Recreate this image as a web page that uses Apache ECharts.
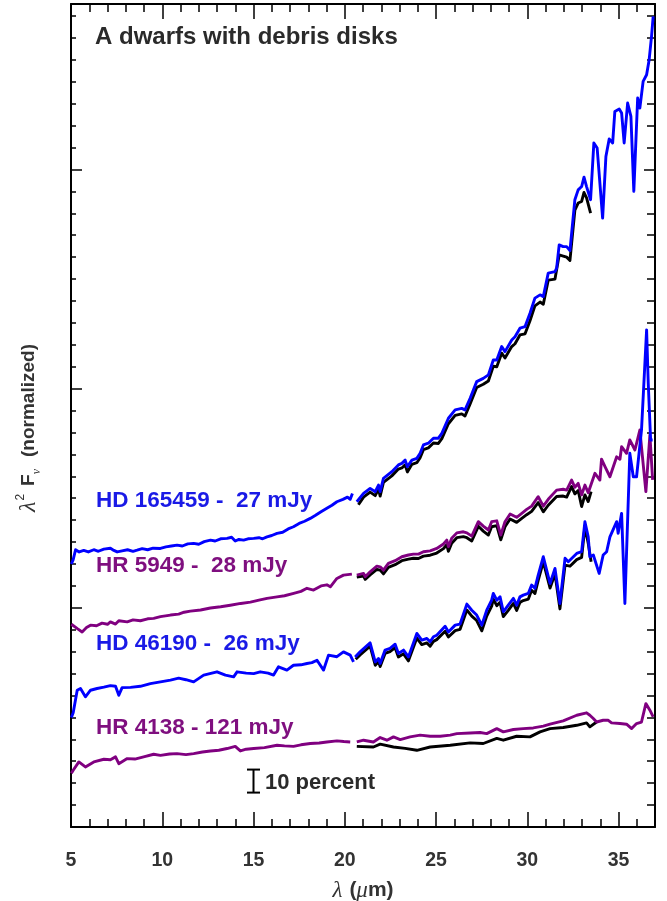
<!DOCTYPE html>
<html><head><meta charset="utf-8">
<script src="https://cdn.jsdelivr.net/npm/echarts@6/dist/echarts.min.js"></script>
<style>html,body{margin:0;padding:0;background:#fff}#c{width:667px;height:901px}</style>
</head><body><div id="c"></div>
<script>
// ---------- data (x = wavelength in micron, y = normalized flux in minor-tick units) ----------
const xTickLabels = [5, 10, 15, 20, 25, 30, 35];
const titleText = 'A dwarfs with debris disks';
const starLabels = ['HD 165459 -  27 mJy', 'HR 5949 -  28 mJy', 'HD 46190 -  26 mJy', 'HR 4138 - 121 mJy'];
const errBarLabel = '10 percent';
const errBar = [[15, 1.57, 2.62]];

const hd165459SL = [[5.02,12.0],[5.12,12.2],[5.25,12.65],[5.45,12.55],[5.7,12.62],[5.95,12.55],[6.25,12.65],[6.5,12.58],[6.8,12.68],[7.16,12.72],[7.35,12.62],[7.53,12.55],[7.8,12.6],[8.1,12.65],[8.4,12.58],[8.62,12.63],[8.9,12.7],[9.2,12.65],[9.5,12.72],[9.9,12.71],[10.2,12.78],[10.5,12.82],[10.81,12.86],[11.1,12.82],[11.4,12.92],[11.72,12.94],[12.0,12.9],[12.3,13.02],[12.64,13.09],[12.9,13.05],[13.2,13.15],[13.55,13.17],[13.8,13.22],[14.0,13.05],[14.2,13.12],[14.46,13.09],[14.7,13.15],[15.01,13.17],[15.3,13.2],[15.5,13.15],[15.74,13.24],[16.0,13.3],[16.29,13.4],[16.6,13.45],[16.9,13.6],[17.19,13.7],[17.5,13.85],[17.8,13.95],[18.11,14.08],[18.4,14.22],[18.7,14.38],[19.02,14.54],[19.3,14.68],[19.57,14.84],[19.9,14.95],[20.15,15.05],[20.3,14.95],[20.42,15.22]];
const hd165459LL = [[20.66,14.84],[21.03,15.22],[21.39,15.45],[21.67,15.3],[21.85,15.6],[21.94,15.3],[22.12,15.91],[22.58,16.21],[22.94,16.52],[23.13,16.59],[23.31,16.74],[23.43,16.44],[23.68,16.74],[23.95,16.82],[24.13,17.05],[24.31,17.43],[24.58,17.51],[24.86,17.74],[25.13,17.74],[25.32,17.96],[25.68,18.65],[26.05,19.03],[26.41,19.1],[26.59,19.03],[26.87,19.56],[27.23,20.32],[27.59,20.47],[27.87,20.63],[28.14,21.31],[28.33,21.31],[28.6,21.92],[28.78,21.69],[29.15,22.22],[29.33,22.37],[29.6,22.76],[29.88,22.83],[30.15,23.44],[30.42,24.13],[30.7,24.28],[30.88,24.2],[31.15,25.27],[31.52,25.34],[31.61,25.5],[31.75,26.56],[31.97,26.48],[32.16,26.48],[32.34,26.3],[32.61,28.62],[32.79,29.07],[32.98,29.22],[33.11,29.65],[33.25,29.22],[33.47,28.62],[33.65,31.21],[33.83,30.98],[34.13,27.78],[34.31,30.59],[34.49,31.39],[34.68,31.21],[34.8,32.65],[35.04,32.76],[35.17,32.58],[35.31,31.21],[35.5,33.03],[35.68,32.42],[35.84,29.0],[36.05,33.26],[36.17,32.8],[36.35,34.02],[36.54,34.32],[36.68,35.01],[36.81,36.07],[36.9,36.99]];
const hd165459Black = [[20.75,14.7],[21.03,15.05],[21.39,15.28],[21.67,15.12],[21.85,15.42],[21.94,15.1],[22.12,15.72],[22.58,16.02],[22.94,16.33],[23.13,16.38],[23.31,16.52],[23.43,16.2],[23.68,16.55],[23.95,16.62],[24.13,16.85],[24.31,17.22],[24.58,17.3],[24.86,17.52],[25.13,17.5],[25.32,17.72],[25.68,18.4],[26.05,18.78],[26.41,18.85],[26.59,18.75],[26.87,19.3],[27.23,20.05],[27.59,20.2],[27.87,20.35],[28.14,21.02],[28.33,21.0],[28.6,21.62],[28.78,21.4],[29.15,21.92],[29.33,22.05],[29.6,22.45],[29.88,22.5],[30.15,23.1],[30.42,23.78],[30.7,23.95],[30.88,23.85],[31.15,24.95],[31.52,25.0],[31.75,26.1],[31.97,26.05],[32.16,26.0],[32.34,25.85],[32.61,28.15],[32.79,28.47],[32.98,28.54],[33.11,28.95],[33.25,28.7],[33.47,28.01]];

const hr5949SL = [[5.02,9.25],[5.12,9.21],[5.35,9.05],[5.61,8.9],[5.85,9.1],[6.07,9.21],[6.4,9.18],[6.7,9.3],[7.0,9.25],[7.16,9.36],[7.44,9.26],[7.62,9.41],[8.08,9.36],[8.4,9.45],[8.8,9.41],[9.2,9.5],[9.53,9.52],[9.9,9.6],[10.45,9.67],[10.9,9.71],[11.2,9.8],[11.54,9.85],[12.1,9.9],[12.64,9.99],[13.2,10.05],[13.73,10.12],[14.3,10.2],[14.83,10.26],[15.3,10.35],[15.74,10.43],[16.29,10.5],[16.7,10.55],[17.2,10.66],[17.6,10.75],[17.93,10.89],[18.29,10.81],[18.7,11.0],[19.02,11.05],[19.21,10.96],[19.57,11.34],[19.93,11.49],[20.39,11.54]];
const hr5949LL = [[20.66,11.49],[21.03,11.57],[21.12,11.42],[21.39,11.64],[21.76,11.9],[21.94,11.87],[22.12,11.72],[22.39,12.03],[22.76,12.15],[23.13,12.33],[23.49,12.41],[23.76,12.45],[24.04,12.45],[24.31,12.56],[24.68,12.6],[25.04,12.71],[25.41,12.91],[25.59,13.09],[25.68,12.79],[25.86,13.17],[26.14,13.42],[26.5,13.47],[26.69,13.42],[26.96,13.27],[27.32,13.93],[27.59,13.73],[27.87,13.55],[28.05,13.93],[28.33,13.97],[28.55,13.32],[28.78,13.93],[29.06,14.28],[29.42,14.13],[29.7,14.31],[29.97,14.49],[30.24,14.64],[30.6,15.07],[30.88,14.64],[31.15,14.95],[31.61,15.37],[31.97,15.41],[32.16,15.37],[32.43,15.83],[32.61,15.5],[32.79,15.68],[32.98,15.15],[33.16,15.6],[33.34,15.25],[33.71,16.14],[33.98,15.83],[34.07,16.78],[34.26,16.44],[34.53,15.98],[34.9,16.89],[35.08,16.78],[35.17,17.35],[35.44,17.05],[35.62,17.66],[35.9,17.2],[36.17,18.11],[36.5,15.3],[36.72,17.88],[36.87,15.84]];
const hr5949Black = [[20.66,11.4],[21.03,11.45],[21.12,11.3],[21.39,11.5],[21.76,11.75],[21.94,11.72],[22.12,11.55],[22.39,11.85],[22.76,11.97],[23.13,12.15],[23.49,12.22],[23.76,12.26],[24.04,12.25],[24.31,12.36],[24.68,12.4],[25.04,12.5],[25.41,12.7],[25.59,12.88],[25.68,12.58],[25.86,12.95],[26.14,13.2],[26.5,13.25],[26.69,13.2],[26.96,13.05],[27.32,13.72],[27.59,13.5],[27.87,13.32],[28.05,13.7],[28.33,13.75],[28.55,13.1],[28.78,13.7],[29.06,14.05],[29.42,13.9],[29.7,14.08],[29.97,14.25],[30.24,14.4],[30.6,14.8],[30.88,14.38],[31.15,14.68],[31.61,15.08],[31.97,15.1],[32.16,15.05],[32.43,15.53],[32.61,15.2],[32.79,15.35],[32.98,14.62],[33.16,15.15],[33.34,14.85],[33.5,15.3]];

const hd46190SL = [[5.02,5.0],[5.12,5.21],[5.34,6.24],[5.52,6.32],[5.79,5.94],[6.07,6.24],[6.43,6.32],[6.8,6.38],[7.16,6.45],[7.44,6.42],[7.62,6.01],[7.8,6.36],[8.26,6.37],[8.8,6.42],[9.35,6.54],[9.9,6.62],[10.45,6.7],[10.9,6.79],[11.3,6.72],[11.72,6.62],[12.27,6.93],[13.0,7.08],[13.46,6.93],[13.91,6.85],[14.1,7.08],[14.6,7.02],[15.01,7.0],[15.37,7.08],[15.8,7.02],[16.1,6.93],[16.37,7.31],[16.83,7.16],[17.19,7.38],[17.6,7.4],[17.93,7.46],[18.2,7.5],[18.48,7.61],[18.84,7.16],[19.11,7.84],[19.57,7.77],[19.93,7.99],[20.3,7.84],[20.48,7.53]];
const hd46190LL = [[20.57,7.76],[20.84,7.99],[21.39,8.4],[21.67,7.53],[21.85,7.69],[21.94,7.46],[22.21,8.07],[22.48,8.15],[22.76,8.34],[22.94,7.92],[23.22,8.07],[23.49,7.76],[23.95,8.83],[24.22,8.53],[24.5,8.6],[24.68,8.45],[24.86,8.68],[25.04,8.75],[25.5,9.16],[25.68,8.9],[26.05,9.21],[26.32,9.26],[26.69,10.17],[26.96,9.89],[27.23,9.67],[27.51,9.21],[27.78,9.89],[28.05,10.35],[28.14,10.66],[28.33,10.35],[28.51,10.5],[28.69,9.82],[28.96,10.12],[29.24,10.43],[29.42,10.12],[29.6,10.5],[29.78,10.58],[30.06,10.66],[30.24,11.04],[30.42,10.89],[30.6,11.49],[30.88,12.33],[31.25,11.11],[31.52,11.8],[31.79,10.2],[32.07,12.26],[32.25,12.1],[32.34,12.18],[32.71,12.48],[32.98,12.56],[33.16,13.93],[33.34,13.24],[33.43,12.33],[33.62,12.41],[33.94,11.57],[34.16,12.41],[34.35,12.56],[34.53,13.24],[34.9,13.93],[34.98,13.4],[35.17,14.31],[35.35,10.2],[35.62,17.05],[35.81,15.98],[35.99,15.98],[36.26,18.11],[36.54,22.68],[36.63,20.25],[36.76,17.66],[36.87,17.66]];
const hd46190Black = [[20.6,7.65],[20.84,7.85],[21.39,8.25],[21.67,7.38],[21.85,7.55],[21.94,7.32],[22.21,7.92],[22.48,8.0],[22.76,8.18],[22.94,7.76],[23.22,7.9],[23.49,7.58],[23.95,8.62],[24.22,8.32],[24.5,8.4],[24.68,8.25],[24.86,8.47],[25.04,8.55],[25.5,8.93],[25.68,8.67],[26.05,8.96],[26.32,9.02],[26.69,9.9],[26.96,9.62],[27.23,9.42],[27.51,8.95],[27.78,9.62],[28.05,10.08],[28.14,10.4],[28.33,10.1],[28.51,10.25],[28.69,9.6],[28.96,9.88],[29.24,10.2],[29.42,9.88],[29.6,10.25],[29.78,10.33],[30.06,10.4],[30.24,10.8],[30.42,10.65],[30.6,11.25],[30.88,12.1],[31.25,10.9],[31.52,11.55],[31.79,9.95],[32.07,11.95],[32.34,11.9],[32.71,12.2],[32.98,12.3],[33.16,13.7],[33.34,12.95],[33.5,12.1]];

const hr4138SL = [[5.02,2.45],[5.12,2.59],[5.43,2.97],[5.79,2.74],[6.25,2.97],[6.8,3.09],[7.16,3.07],[7.44,3.2],[7.62,2.89],[8.08,3.12],[8.5,3.1],[8.98,3.2],[9.53,3.32],[9.9,3.27],[10.4,3.33],[10.81,3.35],[11.3,3.3],[11.72,3.35],[12.2,3.42],[12.64,3.47],[13.1,3.5],[13.55,3.58],[14.0,3.68],[14.28,3.47],[14.6,3.55],[15.01,3.58],[15.6,3.62],[16.29,3.73],[16.7,3.7],[17.19,3.68],[17.6,3.75],[18.11,3.81],[18.6,3.83],[19.02,3.88],[19.57,3.93],[19.95,3.9],[20.3,3.88]];
const hr4138LL = [[20.66,3.88],[21.03,3.96],[21.57,3.88],[21.94,4.08],[22.31,3.96],[22.67,4.11],[23.04,3.99],[23.58,4.11],[24.13,4.19],[24.68,4.14],[25.23,4.14],[25.78,4.19],[26.14,4.26],[26.87,4.29],[27.42,4.31],[27.78,4.26],[28.33,4.49],[28.69,4.34],[29.24,4.45],[29.78,4.49],[30.33,4.52],[30.88,4.6],[31.25,4.69],[31.97,4.84],[32.71,5.1],[33.25,5.21],[33.43,5.1],[33.62,4.95],[33.71,5.02],[33.8,4.79],[34.16,4.87],[34.44,4.87],[34.62,4.75],[35.08,4.72],[35.44,4.69],[35.72,4.49],[35.99,4.72],[36.26,4.79],[36.5,5.63],[36.72,5.33],[36.9,5.02]];
const hr4138Black = [[20.66,3.68],[21.57,3.65],[21.94,3.78],[22.67,3.65],[23.31,3.59],[23.95,3.5],[24.68,3.65],[25.78,3.73],[26.87,3.84],[27.59,3.81],[28.33,4.04],[28.69,3.96],[29.42,4.14],[30.15,4.11],[30.7,4.34],[31.25,4.49],[31.97,4.54],[32.71,4.64],[33.25,4.75],[33.43,4.57],[33.8,4.79]];

// ---------- styling ----------
const BLUE = '#0000ff', PURPLE = '#800080', BLACK = '#000000';
const FONT = '"Liberation Sans", Arial, Helvetica, sans-serif';
const SERIF = '"Liberation Serif", "DejaVu Serif", serif';

function lineSeries(data, color, z) {
  return { type: 'line', data: data, showSymbol: false, symbol: 'none', z: z, silent: true,
    lineStyle: { color: color, width: 2.9, join: 'round' }, animation: false };
}

const series = [
  lineSeries(hd165459Black, BLACK, 2), lineSeries(hd165459SL, BLUE, 3), lineSeries(hd165459LL, BLUE, 3),
  lineSeries(hr5949Black, BLACK, 2), lineSeries(hr5949SL, PURPLE, 3), lineSeries(hr5949LL, PURPLE, 3),
  lineSeries(hd46190Black, BLACK, 2), lineSeries(hd46190SL, BLUE, 3), lineSeries(hd46190LL, BLUE, 3),
  lineSeries(hr4138Black, BLACK, 2), lineSeries(hr4138SL, PURPLE, 3), lineSeries(hr4138LL, PURPLE, 3),
  { type: 'custom', data: errBar, silent: true, animation: false, z: 4,
    renderItem: function (params, api) {
      const x = api.value(0), lo = api.value(1), hi = api.value(2);
      const p1 = api.coord([x, lo]), p2 = api.coord([x, hi]);
      const w = 6.5, st = { stroke: '#000', lineWidth: 2 };
      return { type: 'group', children: [
        { type: 'line', shape: { x1: p1[0], y1: p1[1], x2: p2[0], y2: p2[1] }, style: st },
        { type: 'line', shape: { x1: p1[0] - w, y1: p1[1], x2: p1[0] + w, y2: p1[1] }, style: st },
        { type: 'line', shape: { x1: p2[0] - w, y1: p2[1], x2: p2[0] + w, y2: p2[1] }, style: st }
      ] };
    } }
];

const axLine = { show: true, onZero: false, lineStyle: { color: '#000', width: 2 } };
function xAx(pos, interval, tickLen, showLine, showLabel) {
  return { type: 'value', min: 5, max: 37, interval: interval, position: pos,
    axisLine: showLine ? axLine : { show: false, onZero: false },
    axisTick: { show: true, inside: true, length: tickLen, lineStyle: { color: '#000', width: 1.5 } },
    axisLabel: showLabel ? { show: true, margin: 24, color: '#333', fontFamily: FONT, fontWeight: 'bold', fontSize: 19.5,
      formatter: function (v) { return xTickLabels.indexOf(v) >= 0 ? String(v) : ''; } } : { show: false },
    splitLine: { show: false } };
}
function yAx(pos, interval, tickLen, showLine) {
  return { type: 'value', min: 0, max: 37.55, interval: interval, position: pos,
    axisLine: showLine ? axLine : { show: false, onZero: false },
    axisTick: { show: true, inside: true, length: tickLen, lineStyle: { color: '#000', width: 1.5 } },
    axisLabel: { show: false }, splitLine: { show: false } };
}

const xAxes = [xAx('bottom', 5, 15, true, true), xAx('bottom', 1, 8, false, false), xAx('top', 5, 15, true, false), xAx('top', 1, 8, false, false)];
xAxes[0].name = '{l|λ}{b|(}{u|μ}{b|m)}';
xAxes[0].nameLocation = 'middle';
xAxes[0].nameGap = 52;
xAxes[0].nameTextStyle = { rich: {
  l: { fontFamily: SERIF, fontStyle: 'italic', fontSize: 23, color: '#333', padding: [0, 7, 0, 0] },
  u: { fontFamily: SERIF, fontStyle: 'italic', fontSize: 23, color: '#333' },
  b: { fontFamily: FONT, fontWeight: 'bold', fontSize: 21, color: '#333' } } };

const yAxes = [yAx('left', 10, 11, true), yAx('left', 1, 5, false), yAx('right', 10, 11, true), yAx('right', 1, 8, false)];

const chart = echarts.init(document.getElementById('c'), null, { renderer: 'canvas' });
chart.setOption({
  animation: false,
  backgroundColor: '#fff',
  grid: { left: 71, right: 12, top: 4, bottom: 74, containLabel: false, outerBoundsMode: 'none' },
  xAxis: xAxes,
  yAxis: yAxes,
  series: series,
  graphic: [
    { type: 'text', x: 95, y: 37, silent: true, z: 10, style: { text: titleText, fill: '#2a2a2a', font: 'bold 24px ' + FONT, verticalAlign: 'middle' } },
    { type: 'text', x: 96, y: 501, silent: true, z: 10, style: { text: starLabels[0], fill: '#1a1ae6', font: 'bold 22.5px ' + FONT, verticalAlign: 'middle' } },
    { type: 'text', x: 96, y: 566, silent: true, z: 10, style: { text: starLabels[1], fill: '#7f0f7f', font: 'bold 22.5px ' + FONT, verticalAlign: 'middle' } },
    { type: 'text', x: 96, y: 644, silent: true, z: 10, style: { text: starLabels[2], fill: '#1a1ae6', font: 'bold 22.5px ' + FONT, verticalAlign: 'middle' } },
    { type: 'text', x: 96, y: 727.5, silent: true, z: 10, style: { text: starLabels[3], fill: '#7f0f7f', font: 'bold 22.5px ' + FONT, verticalAlign: 'middle' } },
    { type: 'text', x: 265, y: 782.5, silent: true, z: 10, style: { text: errBarLabel, fill: '#2a2a2a', font: 'bold 22px ' + FONT, verticalAlign: 'middle' } },
    { type: 'text', x: 29, y: 428, rotation: Math.PI / 2, silent: true, z: 10,
      style: { text: '{i|λ}{sup|2}{b|F}{sub|ν}{b|(normalized)}', align: 'center', verticalAlign: 'middle',
        rich: {
          i: { fontFamily: SERIF, fontStyle: 'italic', fontSize: 24, fill: '#333', lineHeight: 28 },
          sup: { fontFamily: FONT, fontSize: 12, fill: '#333', verticalAlign: 'top', lineHeight: 28, padding: [0, 8, 0, 1] },
          b: { fontFamily: FONT, fontWeight: 'bold', fontSize: 19, fill: '#333', lineHeight: 28 },
          sub: { fontFamily: SERIF, fontStyle: 'italic', fontSize: 12, fill: '#333', verticalAlign: 'bottom', lineHeight: 28, padding: [0, 12, 0, 0] }
        } } }
  ]
});
</script></body></html>
